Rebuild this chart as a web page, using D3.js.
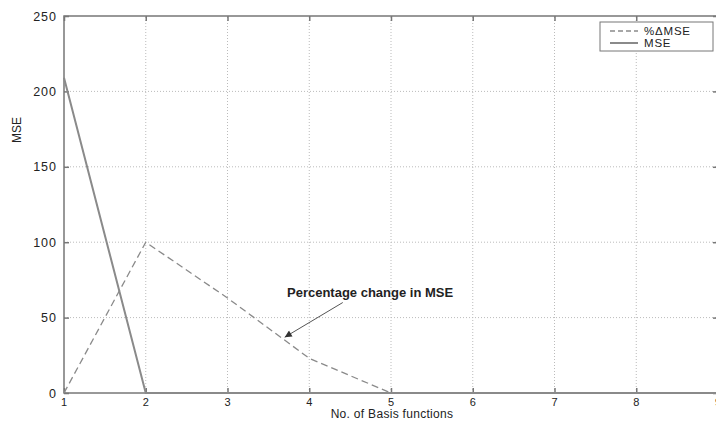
<!DOCTYPE html>
<html>
<head>
<meta charset="utf-8">
<script src="https://cdn.jsdelivr.net/npm/d3@7"></script>
<style>
  body { margin: 0; background: #fff; }
  text { font-family: "Liberation Sans", Arial, sans-serif; fill: #222; }
</style>
</head>
<body>
<div class="chart"></div>
<script>
var basisFns = [1, 2, 3, 4, 5, 6, 7, 8, 9];
var mse = [209, 0, 0, 0, 0, 0, 0, 0, 0];
var pctChange = [0, 100, 63, 23, 0, 0, 0, 0, 0];
var xTicks = [1, 2, 3, 4, 5, 6, 7, 8, 9];
var yTicks = [0, 50, 100, 150, 200, 250];

var width = 716, height = 425;
var margin = {left: 64, top: 16, right: -2, bottom: 32};

var svg = d3.select(".chart")
  .append("svg")
  .attr("width", width)
  .attr("height", height);

var x = d3.scaleLinear().domain([1, 9]).range([margin.left, width - margin.right]);
var y = d3.scaleLinear().domain([0, 250]).range([height - margin.bottom, margin.top]);

var axisCol = "#777";
var lineCol = "#8a8a8a";

// grid
svg.append("g").selectAll("line.gx")
  .data(xTicks.slice(1, -1))
  .enter().append("line")
  .attr("x1", function(d){ return x(d); })
  .attr("x2", function(d){ return x(d); })
  .attr("y1", y(0)).attr("y2", y(250))
  .style("stroke", "#bbb").style("stroke-dasharray", "1,2");

svg.append("g").selectAll("line.gy")
  .data(yTicks.slice(1, -1))
  .enter().append("line")
  .attr("x1", x(1)).attr("x2", x(9))
  .attr("y1", function(d){ return y(d); })
  .attr("y2", function(d){ return y(d); })
  .style("stroke", "#bbb").style("stroke-dasharray", "1,2");

// frame
svg.append("rect")
  .attr("x", x(1)).attr("y", y(250))
  .attr("width", x(9) - x(1)).attr("height", y(0) - y(250))
  .style("fill", "none").style("stroke", axisCol).style("stroke-width", 1.5);

// axes with inward ticks
var xAxis = d3.axisBottom(x).tickValues(xTicks).tickSize(-5).tickPadding(5).tickFormat(d3.format("d"));
var xTop = d3.axisTop(x).tickValues(xTicks).tickSize(-5).tickFormat("");
var yAxis = d3.axisLeft(y).tickValues(yTicks).tickSize(-5).tickPadding(7);
var yRight = d3.axisRight(y).tickValues(yTicks).tickSize(-5).tickFormat("");

[
  [xAxis, "translate(0," + y(0) + ")", "11px"],
  [xTop, "translate(0," + y(250) + ")", "11px"],
  [yAxis, "translate(" + x(1) + ",0)", "12.5px"],
  [yRight, "translate(" + x(9) + ",0)", "11px"]
].forEach(function(a){
  var g = svg.append("g").attr("transform", a[1]).call(a[0]);
  g.select(".domain").remove();
  g.selectAll(".tick line").style("stroke", axisCol).style("stroke-width", 1.5);
  g.selectAll(".tick text").style("font-size", a[2]).style("fill", "#222")
    .style("letter-spacing", "1px");
});

// axis labels
svg.append("text")
  .attr("x", 392).attr("y", 418)
  .attr("text-anchor", "middle")
  .style("font-size", "12px")
  .style("letter-spacing", "0.3px")
  .text("No. of Basis functions");

svg.append("text")
  .attr("transform", "translate(21,130) rotate(-90)")
  .attr("text-anchor", "middle")
  .style("font-size", "12px")
  .text("MSE");

// series
var line = d3.line()
  .x(function(d){ return x(d[0]); })
  .y(function(d){ return y(d[1]); });

svg.append("path")
  .datum(d3.zip(basisFns, pctChange))
  .attr("d", line)
  .style("fill", "none").style("stroke", lineCol).style("stroke-width", 1.3)
  .style("stroke-dasharray", "7,4");

svg.append("path")
  .datum(d3.zip(basisFns, mse))
  .attr("d", line)
  .style("fill", "none").style("stroke", lineCol).style("stroke-width", 2);

// annotation
svg.append("defs").append("marker")
  .attr("id", "arr")
  .attr("viewBox", "0 0 10 10")
  .attr("refX", 10).attr("refY", 5)
  .attr("markerWidth", 9).attr("markerHeight", 7)
  .attr("orient", "auto")
  .append("path").attr("d", "M0,0L10,5L0,10z").style("fill", "#333");

svg.append("line")
  .attr("x1", x(4.41)).attr("y1", y(60))
  .attr("x2", x(3.70)).attr("y2", y(37))
  .style("stroke", "#555").style("stroke-width", 1)
  .attr("marker-end", "url(#arr)");

svg.append("text")
  .attr("x", 287).attr("y", 297)
  .style("font-size", "13px").style("font-weight", "bold")
  .text("Percentage change in MSE");

// legend
var lg = svg.append("g").attr("transform", "translate(600,22)");
lg.append("rect")
  .attr("width", 113).attr("height", 29)
  .style("fill", "#fff").style("stroke", axisCol).style("stroke-width", 1);
lg.append("line")
  .attr("x1", 10).attr("x2", 38).attr("y1", 9).attr("y2", 9)
  .style("stroke", lineCol).style("stroke-width", 1.3).style("stroke-dasharray", "5,3");
lg.append("line")
  .attr("x1", 10).attr("x2", 38).attr("y1", 21).attr("y2", 21)
  .style("stroke", lineCol).style("stroke-width", 2);
lg.append("text").attr("x", 44).attr("y", 13).style("font-size", "11.5px")
  .style("letter-spacing", "0.8px").text("%\u0394MSE");
lg.append("text").attr("x", 44).attr("y", 25).style("font-size", "11.5px")
  .style("letter-spacing", "0.8px").text("MSE");
</script>
</body>
</html>
